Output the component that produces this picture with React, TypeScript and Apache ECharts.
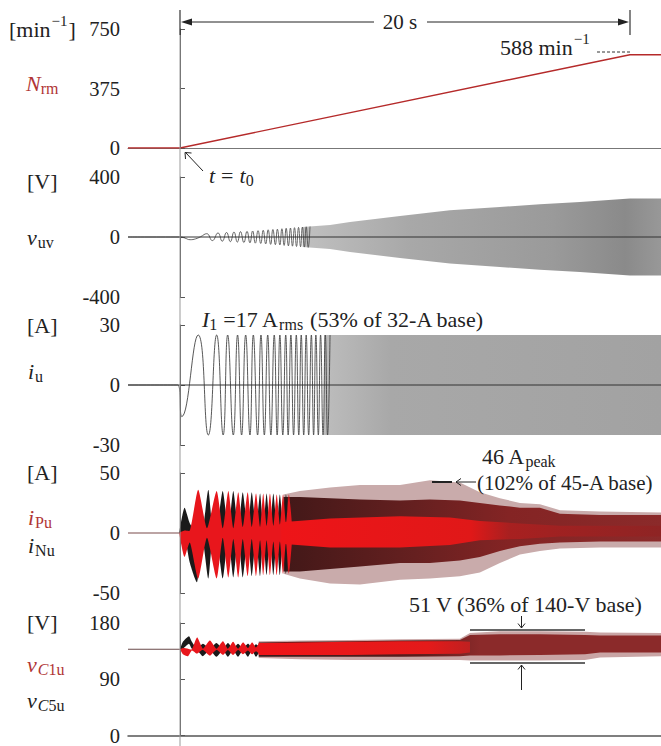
import React, { useEffect, useRef } from 'react';
import * as echarts from 'echarts';

const FONT = "'Liberation Serif', 'DejaVu Serif', serif";
const RED = '#b03535';
const T_MIN = -2.31;
const T_MAX = 21.38;

// ---------- axis ticks [min, max, interval] ----------
const AX_N = [0, 750, 375];
const AX_VUV = [-400, 400, 400];
const AX_IU = [-30, 30, 30];
const AX_IARM = [-50, 50, 50];
const AX_VC = [0, 180, 90];

// ---------- panel 1 : N_rm [t(s), min^-1] ----------
const N_RM: number[][] = [[-2.31, 0], [0, 0], [20, 588], [21.38, 588]];

// ---------- panel 2 : v_uv ----------
const V_UV_EARLY: number[][] = [
  [-2.31, 0], [0, 0], [0.2, -6], [0.45, -18], [0.7, -12], [0.92, 2], [1.19, 22], [1.44, -24],
  [1.69, 27], [1.88, -28], [2.07, 30], [2.24, -31], [2.4, 33], [2.55, -34], [2.69, 36], [2.84, -37],
  [2.98, 38], [3.11, -39], [3.23, 40], [3.35, -41], [3.47, 42], [3.59, -43], [3.7, 45], [3.81, -46],
  [3.92, 48], [4.03, -49], [4.13, 50], [4.24, -51], [4.33, 52], [4.44, -53], [4.53, 55], [4.63, -56],
  [4.72, 58], [4.82, -59], [4.91, 60], [5.0, -61], [5.09, 62], [5.18, -63], [5.27, 64], [5.36, -65],
  [5.44, 66], [5.53, -67], [5.61, 68], [5.7, -69], [5.78, 70],
];
// [t, upper envelope, lower envelope]
const V_UV_BAND: number[][] = [
  [5.45, 66, -66], [6.67, 80, -80], [7.56, 100, -100], [9.78, 140, -140], [12.0, 178, -176],
  [14.22, 200, -200], [16.0, 218, -218], [17.78, 233, -233], [20.0, 256, -256], [21.38, 256, -256],
];

// ---------- panel 3 : i_u ----------
const I_U_EARLY: number[][] = [
  [-2.31, 0], [-0.1, 0], [0.08, -15.8], [0.81, 25], [1.26, -25], [1.63, 25], [1.92, -25], [2.12, 25],
  [2.37, -25], [2.56, 25], [2.74, -25], [2.92, 25], [3.11, -25], [3.26, 25], [3.45, -25], [3.6, 25],
  [3.75, -25], [3.9, 25], [4.04, -25], [4.19, 25], [4.32, -25], [4.44, 25], [4.57, -25], [4.7, 25],
  [4.81, -25], [4.93, 25], [5.05, -25], [5.17, 25], [5.28, -25], [5.39, 25], [5.5, -25], [5.61, 25],
  [5.72, -25], [5.84, 25], [5.94, -25], [6.04, 25], [6.15, -25], [6.25, 25], [6.36, -25], [6.46, 25],
  [6.56, -25], [6.67, 25],
];
const I_U_BAND: number[][] = [
  [6.4, 25, -25], [9.78, 25, -25], [14.22, 25, -25], [18.0, 25, -25], [21.38, 25, -25],
];
const ZERO_LINE: number[][] = [[-2.31, 0], [21.38, 0]];

// ---------- panel 4 : i_Pu (red), i_Nu (black) ----------
const I_ARM_PRE: number[][] = [[-2.31, 0], [0, 0]];
const I_PU_EARLY: number[][] = [
  [-0.04, 0, 0], [0.2, 2, -20], [0.44, 2, -8], [0.81, 36, -38], [1.2, 4, -4], [1.63, 35, -38],
  [1.9, 4, -4], [2.15, 35, -37], [2.37, 4, -5], [2.59, 34, -37], [2.79, 5, -5], [3.01, 34, -36],
  [3.19, 5, -5], [3.38, 33, -36], [3.56, 5, -6], [3.7, 33, -35], [3.85, 6, -6], [4.0, 33, -35],
  [4.15, 6, -7], [4.3, 32, -35], [4.44, 7, -7], [4.58, 32, -34], [4.71, 8, -8], [4.84, 32, -34],
  [4.97, 9, -9],
];
const I_NU_EARLY: number[][] = [
  [-0.04, 0, 0], [0.2, 21, -2], [0.44, 8, -25], [0.76, 0, -41], [1.0, 2, -5], [1.26, 36, -38],
  [1.45, 3, -3], [1.63, 3, -3], [1.9, 35, -38], [2.15, 3, -3], [2.37, 35, -37], [2.59, 3, -3],
  [2.79, 34, -37], [3.01, 4, -4], [3.19, 34, -36], [3.38, 4, -4], [3.56, 33, -36], [3.7, 5, -5],
  [3.85, 33, -35], [4.0, 5, -5], [4.15, 33, -35], [4.3, 6, -6], [4.44, 32, -35], [4.58, 7, -7],
  [4.71, 32, -34], [4.84, 8, -8],
];
const I_ARM_OUTER: number[][] = [
  [4.6, 32, -34], [5.33, 35, -38], [6.67, 38, -42], [8.0, 40, -43], [9.78, 40, -39], [11.11, 44, -38],
  [12.44, 42, -36], [13.33, 34, -33], [14.22, 29, -25], [15.11, 25, -18], [16.0, 24, -15],
  [16.89, 19, -13], [18.67, 18, -12], [21.38, 17, -12],
];
const I_ARM_MID: number[][] = [
  [4.6, 30, -32], [5.33, 30, -32], [6.67, 29, -30], [8.0, 28, -28], [9.78, 27, -25], [11.11, 28, -25],
  [12.44, 27, -23], [13.33, 25, -20], [14.22, 23, -15], [15.11, 21, -11], [16.0, 21, -9],
  [16.89, 16, -8], [18.67, 15, -7], [21.38, 15, -7],
];
const I_ARM_CORE: number[][] = [
  [4.5, 9, -9], [6.67, 12, -12], [9.78, 14, -12], [12.0, 13, -10], [13.33, 10, -6], [15.11, 8, -5],
  [16.89, 6, -3], [21.38, 6, -3],
];

// ---------- panel 5 : v_C1u (red), v_C5u (black) ----------
const V_C_PRE: number[][] = [[-2.31, 138], [0, 138]];
const V_C1_EARLY: number[][] = [
  [0, 138, 138], [0.13, 140, 130], [0.36, 139, 127], [0.53, 138, 136], [0.76, 157, 131],
  [1.02, 139, 137], [1.33, 152, 128], [1.62, 139, 137], [1.91, 151, 129], [2.13, 139, 137],
  [2.36, 150, 129], [2.58, 139, 137], [2.8, 149, 130], [3.02, 140, 136], [3.2, 149, 130],
  [3.38, 141, 135], [3.56, 149, 130],
];
const V_C5_EARLY: number[][] = [
  [0, 138, 138], [0.13, 150, 139], [0.4, 159, 147], [0.53, 150, 139], [0.76, 139, 137],
  [1.02, 147, 127], [1.33, 139, 137], [1.62, 148, 126], [1.91, 139, 137], [2.13, 148, 126],
  [2.36, 139, 137], [2.58, 147, 126], [2.8, 139, 137], [3.02, 147, 126], [3.2, 140, 136],
  [3.38, 146, 126], [3.56, 140, 136],
];
const V_C_OUTER: number[][] = [
  [3.5, 151, 124], [5.33, 152, 122], [7.56, 153, 121], [9.78, 154, 121], [12.44, 155, 121],
  [12.89, 164, 120], [14.22, 167, 120], [16.0, 167, 120], [18.0, 166, 121], [18.67, 165, 125],
  [21.38, 164, 127],
];
const V_C_MID: number[][] = [
  [3.5, 149, 126], [5.33, 150, 126], [7.56, 151, 126], [9.78, 152, 126], [12.44, 153, 127],
  [12.89, 161, 128], [14.22, 162, 128], [16.0, 162, 129], [18.0, 161, 130], [18.67, 160, 133],
  [21.38, 160, 133],
];
const V_C_CORE: number[][] = [
  [3.5, 148, 129], [5.33, 149, 129], [7.56, 150, 129], [9.78, 151, 130], [12.44, 151, 131],
  [12.89, 150, 133],
];

// ---------- helpers ----------
const lg = (stops: [number, string][]) =>
  new echarts.graphic.LinearGradient(0, 0, 1, 0, stops.map(([offset, color]) => ({ offset, color })));

function band(gi: number, pts: number[][], fill: any, z: number, smooth = 0) {
  return {
    type: 'custom',
    xAxisIndex: gi,
    yAxisIndex: gi,
    z,
    silent: true,
    data: pts,
    encode: { x: 0, y: [1, 2] },
    renderItem: (params: any, api: any) => {
      if (params.dataIndex !== 0) return null;
      const up = pts.map((p) => api.coord([p[0], p[1]]));
      const lo = pts.map((p) => api.coord([p[0], p[2]])).reverse();
      return {
        type: 'polygon',
        shape: { points: up.concat(lo), smooth },
        style: { fill, lineWidth: 0 },
      };
    },
  };
}

function wave(gi: number, pts: number[][], color: string, width: number, smooth: any, z: number) {
  return {
    type: 'line',
    xAxisIndex: gi,
    yAxisIndex: gi,
    data: pts,
    showSymbol: false,
    symbol: 'none',
    smooth,
    silent: true,
    z,
    lineStyle: { color, width },
  };
}

let mctx: CanvasRenderingContext2D | null = null;
function tw(text: string, size: number, italic?: boolean) {
  if (!mctx) mctx = document.createElement('canvas').getContext('2d');
  if (!mctx) return text.length * size * 0.5;
  mctx.font = `${italic ? 'italic ' : ''}${size}px ${FONT}`;
  return mctx.measureText(text).width;
}
type Part = { t: string; s?: number; it?: boolean; dy?: number; dx?: number; c?: string };
function run(x: number, y: number, parts: Part[], color = '#222') {
  const out: any[] = [];
  let cx = x;
  for (const p of parts) {
    const size = p.s ?? 22;
    cx += p.dx ?? 0;
    out.push({
      type: 'text',
      x: cx,
      y: y + (p.dy ?? 0),
      z: 100,
      silent: true,
      style: {
        text: p.t,
        fontFamily: FONT,
        fontSize: size,
        fontStyle: p.it ? 'italic' : 'normal',
        fill: p.c ?? color,
        align: 'left',
        verticalAlign: 'middle',
      },
    });
    cx += tw(p.t, size, p.it);
  }
  return out;
}
function seg(x1: number, y1: number, x2: number, y2: number, stroke = '#222', lineWidth = 1, lineDash?: number[]) {
  return { type: 'line', z: 100, silent: true, shape: { x1, y1, x2, y2 }, style: { stroke, lineWidth, lineDash } };
}
function pline(points: number[][], stroke = '#222', lineWidth = 1) {
  return { type: 'polyline', z: 100, silent: true, shape: { points }, style: { stroke, lineWidth, fill: null } };
}
function head(points: number[][]) {
  return { type: 'polygon', z: 100, silent: true, shape: { points }, style: { fill: '#222' } };
}

function buildOption() {
  const grids = [
    { left: 128, right: 0, top: 29, height: 119 },
    { left: 128, right: 0, top: 177, height: 120 },
    { left: 128, right: 0, top: 325, height: 120 },
    { left: 128, right: 0, top: 473, height: 120 },
    { left: 128, right: 0, top: 623, height: 118 },
  ];
  const axes = [AX_N, AX_VUV, AX_IU, AX_IARM, AX_VC];
  const xAxis = grids.map((_, i) => ({
    gridIndex: i,
    type: 'value',
    min: T_MIN,
    max: T_MAX,
    show: i === 0 || i === 4,
    axisLine: { show: true, onZero: false, lineStyle: { color: i === 0 ? '#777' : '#555', width: i === 0 ? 1 : 1.5 } },
    axisTick: { show: false },
    axisLabel: { show: false },
    splitLine: { show: false },
  }));
  const yAxis = axes.map((a, i) => ({
    gridIndex: i,
    type: 'value',
    min: a[0],
    max: a[1],
    interval: a[2],
    axisLine: { show: true, lineStyle: { color: '#555', width: 1 } },
    axisTick: { show: true, inside: true, length: 5, lineStyle: { color: '#555' } },
    axisLabel: { fontFamily: FONT, fontSize: 20.5, color: '#222', margin: 8 },
    splitLine: { show: false },
  }));

  const series: any[] = [
    wave(0, N_RM, '#b52a2a', 1.4, false, 5),

    band(1, V_UV_BAND, lg([[0, '#c0c0c0'], [0.3, '#a8a8a8'], [0.7, '#9a9a9a'], [0.9, '#8a8a8a'], [1, '#989898']]), 2),
    wave(1, V_UV_EARLY, '#555', 0.9, 0.5, 3),
    wave(1, ZERO_LINE, '#333', 1, false, 6),

    band(2, I_U_BAND, lg([[0, '#bdbdbd'], [0.2, '#a8a8a8'], [1, '#a2a2a2']]), 2),
    wave(2, I_U_EARLY, '#444', 0.9, 0.5, 3),
    wave(2, ZERO_LINE, '#333', 1, false, 6),

    wave(3, I_ARM_PRE, '#7a4a4a', 1.2, false, 2),
    band(3, I_ARM_OUTER, '#c9abab', 2),
    band(3, I_ARM_MID, lg([[0, '#421818'], [0.35, '#662020'], [0.6, '#842424'], [1, '#8b2a2a']]), 3),
    band(3, I_NU_EARLY, '#1a1a1a', 4, 0.2),
    band(3, I_PU_EARLY, '#e8161c', 5, 0.2),
    band(3, I_ARM_CORE, lg([[0, '#ee1418'], [0.5, '#e01818'], [0.6, '#a82020'], [1, '#8e2424']]), 6),

    wave(4, V_C_PRE, '#6a4a4a', 1.2, false, 2),
    band(4, V_C_OUTER, '#c9a5a5', 2),
    band(4, V_C_MID, lg([[0, '#3a1a1a'], [0.4, '#5a1c1c'], [0.55, '#8b2a2a'], [1, '#8b2a2a']]), 3),
    band(4, V_C5_EARLY, '#1a1a1a', 4, 0.2),
    band(4, V_C1_EARLY, '#e8161c', 5, 0.2),
    band(4, V_C_CORE, lg([[0, '#ee1418'], [0.8, '#e41a1a'], [1, '#c02020']]), 6),
  ];

  const graphic: any[] = [
    // t0 marker and 20 s span
    seg(180, 35, 180, 746, '#9a9a9a', 1),
    seg(180, 10, 180, 35, '#333', 1.2),
    seg(630, 10, 630, 35, '#333', 1.2),
    seg(186, 22, 374, 22, '#222', 1),
    head([[181, 22], [192, 18.5], [192, 25.5]]),
    seg(427, 22, 624, 22, '#222', 1),
    head([[629, 22], [618, 18.5], [618, 25.5]]),
    { type: 'text', x: 400, y: 22, z: 100, silent: true, style: { text: '20 s', fontFamily: FONT, fontSize: 21, fill: '#222', align: 'center', verticalAlign: 'middle' } },
    seg(597, 52, 630, 52, '#333', 1, [3, 2]),
    // t = t0 arrow
    seg(203, 171, 186, 153, '#222', 1),
    pline([[185.5, 159], [185, 152.5], [191.5, 153]]),
    // 46 A peak marker
    seg(432, 482, 452, 482, '#222', 2),
    seg(456, 482, 476, 482, '#222', 1),
    pline([[461, 478.5], [456, 482], [461, 485.5]]),
    // 51 V marker
    seg(470, 630, 585, 630, '#333', 1.5),
    seg(470, 663, 585, 663, '#333', 1.5),
    seg(521.5, 616, 521.5, 628, '#222', 1),
    pline([[518, 623.5], [521.5, 628], [525, 623.5]]),
    seg(521.5, 690, 521.5, 665, '#222', 1),
    pline([[518, 669.5], [521.5, 665], [525, 669.5]]),

    // left labels
    ...run(9, 29, [{ t: '[min' }, { t: '−1', s: 15, dy: -8, dx: 1 }, { t: ']', dx: 1 }]),
    ...run(26, 83, [{ t: 'N', it: true, s: 22 }, { t: 'rm', s: 16, dy: 5 }], RED),
    ...run(27, 181, [{ t: '[V]' }]),
    ...run(27, 237, [{ t: 'v', it: true, s: 22 }, { t: 'uv', s: 16, dy: 5, dx: 1 }]),
    ...run(27, 325, [{ t: '[A]' }]),
    ...run(28, 371, [{ t: 'i', it: true, s: 22 }, { t: 'u', s: 16, dy: 5, dx: 1 }]),
    ...run(27, 472, [{ t: '[A]' }]),
    ...run(28, 517, [{ t: 'i', it: true, s: 22 }, { t: 'Pu', s: 16, dy: 5, dx: 1 }], RED),
    ...run(28, 545, [{ t: 'i', it: true, s: 22 }, { t: 'Nu', s: 16, dy: 5, dx: 1 }]),
    ...run(27, 622, [{ t: '[V]' }]),
    ...run(27, 664, [{ t: 'v', it: true, s: 22 }, { t: 'C', it: true, s: 16, dy: 5, dx: 1 }, { t: '1u', s: 16, dy: 5 }], RED),
    ...run(27, 700, [{ t: 'v', it: true, s: 22 }, { t: 'C', it: true, s: 16, dy: 5, dx: 1 }, { t: '5u', s: 16, dy: 5 }]),

    // annotations
    ...run(500, 47, [{ t: '588 min' }, { t: '−1', s: 15, dy: -8, dx: 1 }]),
    ...run(209, 175, [{ t: 't', it: true, s: 22 }, { t: '=', dx: 6 }, { t: 't', it: true, s: 22, dx: 6 }, { t: '0', s: 16, dy: 5 }]),
    ...run(202, 319, [
      { t: 'I', it: true, s: 22 },
      { t: '1', s: 16, dy: 5 },
      { t: '=17 A', dx: 6 },
      { t: 'rms', s: 16, dy: 5 },
      { t: '(53% of 32-A base)', dx: 7 },
    ]),
    ...run(482, 456, [{ t: '46 A' }, { t: 'peak', s: 16, dy: 5 }]),
    ...run(477, 483, [{ t: '(102% of 45-A base)', s: 21 }]),
    ...run(409, 604, [{ t: '51 V (36% of 140-V base)' }]),
  ];

  return {
    animation: false,
    backgroundColor: '#fff',
    grid: grids,
    xAxis,
    yAxis,
    series,
    graphic,
  };
}

export default function App() {
  const ref = useRef<HTMLDivElement>(null);
  useEffect(() => {
    if (!ref.current) return;
    const chart = echarts.init(ref.current, null, { renderer: 'svg' });
    chart.setOption(buildOption() as any);
    return () => chart.dispose();
  }, []);
  return (
    <div
      ref={ref}
      style={{ position: 'absolute', left: 0, top: 0, width: 661, height: 746, background: '#fff' }}
    />
  );
}
